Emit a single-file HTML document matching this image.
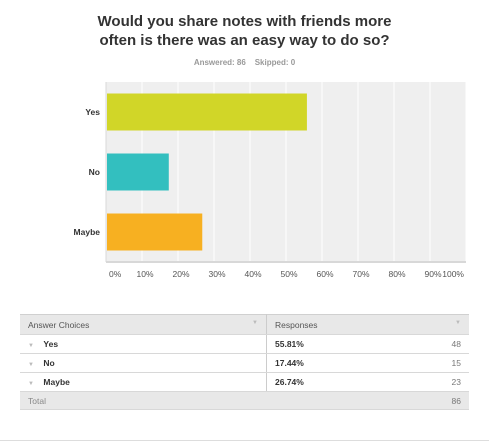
<!DOCTYPE html>
<html><head><meta charset="utf-8"><style>
body{margin:0;width:489px;height:442px;background:#fff;font-family:"Liberation Sans",Arial,sans-serif;position:relative;overflow:hidden}
.t{position:absolute;left:0;width:489px;text-align:center;font-weight:bold;color:#333;font-size:15px;line-height:19px;top:12px}
.s{position:absolute;left:0;width:489px;text-align:center;color:#999;font-size:8px;font-weight:bold;top:58px}
table{position:absolute;left:20px;top:314px;width:449px;border-collapse:collapse;font-size:8.5px;color:#333}
td{height:18px;border-bottom:1px solid #d8d8d8;padding:0 8px}
.h td{background:#e8e8e8;color:#555;border-top:1px solid #d0d0d0;height:19px}
.c{border-right:1px solid #ccc}
.ar{color:#bbb;font-size:6px}
.r{text-align:right;color:#777}
</style></head><body>
<div class="t">Would you share notes with friends more<br>often is there was an easy way to do so?</div>
<div class="s">Answered: 86&nbsp;&nbsp;&nbsp;&nbsp;Skipped: 0</div>
<svg id="ch" width="489" height="300" style="position:absolute;left:0;top:0"></svg>
<table>
<tr class="h"><td class="c" style="width:230px">Answer Choices <span class="ar" style="float:right">▼</span></td><td>Responses <span class="ar" style="float:right">▼</span></td></tr>
<tr><td class="c"><span class="ar">▼</span>&nbsp;&nbsp;&nbsp;&nbsp;<b>Yes</b></td><td><b>55.81%</b><span class="r" style="float:right">48</span></td></tr>
<tr><td class="c"><span class="ar">▼</span>&nbsp;&nbsp;&nbsp;&nbsp;<b>No</b></td><td><b>17.44%</b><span class="r" style="float:right">15</span></td></tr>
<tr><td class="c"><span class="ar">▼</span>&nbsp;&nbsp;&nbsp;&nbsp;<b>Maybe</b></td><td><b>26.74%</b><span class="r" style="float:right">23</span></td></tr>
<tr class="h"><td style="color:#888;height:17px">Total</td><td style="height:17px"><span class="r" style="float:right">86</span></td></tr>
</table>
<div style="position:absolute;left:0;top:440px;width:489px;height:1px;background:#ddd"></div>
<script>
const categories=["Yes","No","Maybe"];
const values=[55.81,17.44,26.74];
const colors=["#d1d628","#33bfbf","#f7b021"];
const ticks=[0,10,20,30,40,50,60,70,80,90,100];
const svg=document.getElementById('ch');const NS="http://www.w3.org/2000/svg";
const x0=106,x1=466,y0=82,y1=262;
const xs=v=>x0+(x1-x0)*v/100;
const band=(y1-y0)/categories.length;
function mk(t,a){const e=document.createElementNS(NS,t);for(const k in a)e.setAttribute(k,a[k]);svg.appendChild(e);return e;}
const bg=mk('rect',{x:x0,y:y0,width:x1-x0,height:y1-y0,fill:'#efefef'});


ticks.forEach((t,i)=>{
 if(i>0){const g=mk('line',{x1:xs(t),x2:xs(t),y1:y0,y2:y1,stroke:'#fff','stroke-width':1});
 
 }
 const tx=mk('text',{x:t===100?xs(t)-2:xs(t)+3,y:277,'font-size':8.5,fill:'#555','text-anchor':t===100?'end':t===0?'start':'middle'});
 tx.textContent=t+'%';
 
 
});
const ax=mk('line',{x1:x0,x2:x1,y1:y1,y2:y1,stroke:'#d8d8d8','stroke-width':2});


const yax=mk('line',{x1:x0,x2:x0,y1:y0,y2:y1,stroke:'#d8d8d8','stroke-width':1});


categories.forEach((c,i)=>{
 const yc=y0+band*(i+0.5);
 const b=mk('rect',{x:x0+1,y:yc-18.5,width:xs(values[i])-x0-1,height:37,fill:colors[i]});
 
 
 const l=mk('text',{x:x0-6,y:yc+3,'font-size':8.5,'font-weight':'bold',fill:'#333','text-anchor':'end'});
 l.textContent=c;
 
 
});
</script>
</body></html>
